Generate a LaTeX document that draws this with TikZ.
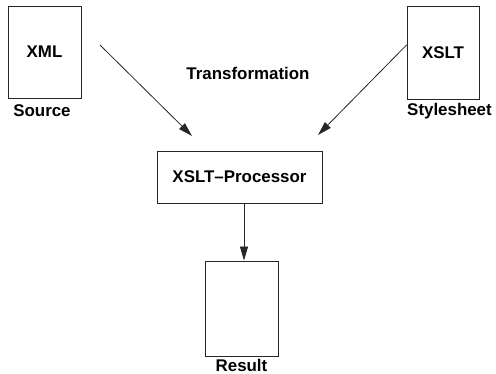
\documentclass[tikz,border=0pt]{standalone}
\usepackage{fontspec}
\setmainfont{Liberation Sans}
\usetikzlibrary{arrows.meta}
\begin{document}
\begin{tikzpicture}[x=1pt,y=-1pt,
  every node/.style={font=\fontsize{16.9}{20}\selectfont\bfseries, inner sep=0pt},
  box/.style={draw=black!85, line width=0.9pt},
  conn/.style={draw=black!85, line width=0.8pt, -{Triangle[length=14pt,width=8pt]}}
]
\path[use as bounding box] (0,0) rectangle (496,374);

\node[box, minimum width=73pt, minimum height=92pt] (xml) at (44.5,52) {XML};
\node[box, minimum width=72pt, minimum height=93pt] (xslt) at (443,52.5) {XSLT};
\node[box, minimum width=165pt, minimum height=52pt] (proc) at (239.5,177) {XSLT–Processor};
\node[box, minimum width=73pt, minimum height=95pt] (res) at (241.5,308.5) {};

\node (src) at (42,111) {Source};
\node (sty) at (449.5,111) {Stylesheet};
\node (reslbl) at (241.5,365.5) {Result};
\node (trans) at (248,73) {Transformation};

\coordinate (a1s) at (100,45);
\coordinate (a1e) at (192,136);
\coordinate (a2e) at (318,135);

\draw[conn] (a1s) -- (a1e);
\draw[conn] (xslt.west |- 0,45) -- (a2e);
\draw[conn] ([xshift=4.5pt]proc.south) -- ([xshift=2.5pt]res.north);
\end{tikzpicture}
\end{document}
